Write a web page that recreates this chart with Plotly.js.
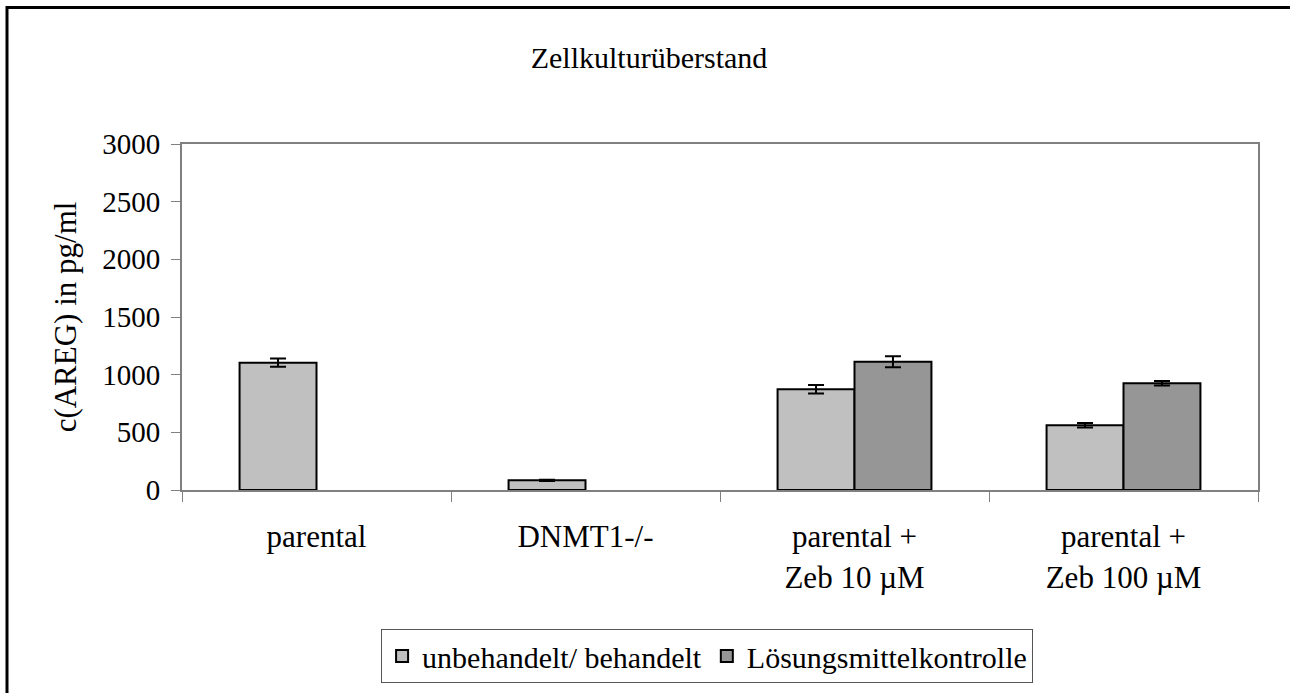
<!DOCTYPE html>
<html>
<head>
<meta charset="utf-8">
<script src="https://cdn.plot.ly/plotly-3.0.1.min.js"></script>
<style>html,body{margin:0;padding:0;background:#fff;}#chart{width:1290px;height:693px;}</style>
</head>
<body>
<div id="chart"></div>
<script>
const categories = ["parental", "DNMT1-/-", "parental +<br>Zeb 10 µM", "parental +<br>Zeb 100 µM"];
const seriesNames = ["unbehandelt/ behandelt", "Lösungsmittelkontrolle"];
const treatedValues = [1104, 84, 873, 562];
const treatedErrors = [36, 5, 37, 20];
const solventValues = [null, null, 1112, 925];
const solventErrors = [null, null, 48, 20];
const yTicks = [0, 500, 1000, 1500, 2000, 2500, 3000];

const font = "'Liberation Serif', 'Times New Roman', serif";
const W = 1290, H = 693;
const L = 182, R = 1258, T = 144, B = 491;

const traces = [
  {
    type: "bar", name: seriesNames[0], x: categories, y: treatedValues,
    marker: {color: "#c0c0c0", line: {color: "#000", width: 2}},
    error_y: {type: "data", array: treatedErrors, visible: true, color: "#000", thickness: 2, width: 8}
  },
  {
    type: "bar", name: seriesNames[1], x: categories, y: solventValues,
    marker: {color: "#969696", line: {color: "#000", width: 2}},
    error_y: {type: "data", array: solventErrors, visible: true, color: "#000", thickness: 2, width: 8}
  }
];

const layout = {
  width: W, height: H,
  margin: {l: L, r: W - R, t: T, b: H - B, pad: 0},
  paper_bgcolor: "#fff", plot_bgcolor: "#fff",
  font: {family: font, color: "#000", size: 29},
  title: {text: "Zellkulturüberstand", font: {family: font, size: 30, color: "#000"}, x: (649 - L) / (R - L), xref: "paper", xanchor: "center", y: 1 - 57 / H, yanchor: "middle"},
  barmode: "group", bargap: 0.428, bargroupgap: 0,
  showlegend: true,
  legend: {
    orientation: "h", x: 0.488, xanchor: "center", y: (B - 629) / (B - T), yanchor: "top",
    bordercolor: "#555", borderwidth: 1, bgcolor: "#fff",
    font: {family: font, size: 30, color: "#000"}, traceorder: "normal",
    itemwidth: 30
  },
  xaxis: {
    type: "category", showline: true, linecolor: "#808080", linewidth: 2, mirror: true,
    ticks: "outside", tickson: "boundaries", ticklen: 10, tickcolor: "#808080", tickwidth: 1,
    tickfont: {family: font, size: 31, color: "#000"}, showgrid: false, zeroline: false,
    ticklabelstandoff: 18
  },
  yaxis: {
    range: [0, 3000], tickvals: yTicks, ticktext: yTicks.map(String),
    showline: true, linecolor: "#808080", linewidth: 2, mirror: true,
    ticks: "outside", ticklen: 9, tickcolor: "#808080", tickwidth: 1,
    tickfont: {family: font, size: 29, color: "#000"}, showgrid: false, zeroline: false,
    ticklabelstandoff: 5,
    title: {text: "c(AREG) in pg/ml", font: {family: font, size: 31, color: "#000"}, standoff: 16}
  },
  shapes: [
    {type: "rect", xref: "paper", yref: "paper",
     x0: (7 - L) / (R - L), x1: (W + 20 - L) / (R - L),
     y0: (B - (H + 20)) / (B - T), y1: (B - 7) / (B - T),
     line: {color: "#000", width: 3}, fillcolor: "rgba(0,0,0,0)", layer: "above"}
  ]
};

Plotly.newPlot("chart", traces, layout, {displayModeBar: false, staticPlot: true});
</script>
</body>
</html>
